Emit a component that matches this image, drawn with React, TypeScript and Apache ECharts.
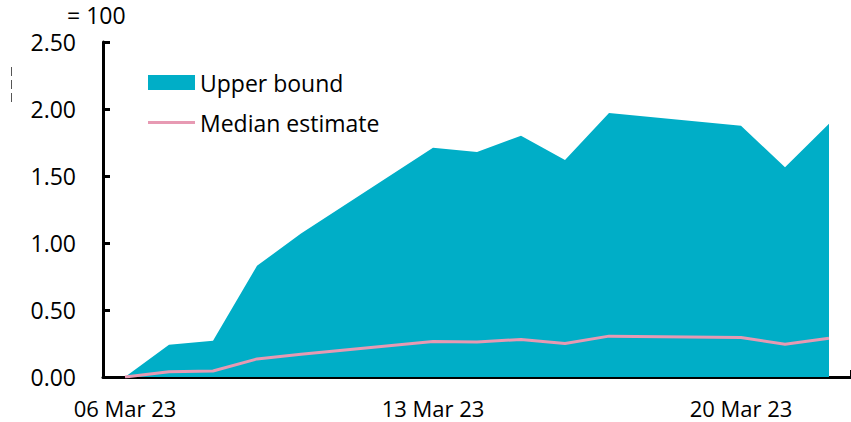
import React, { useEffect, useRef } from "react";
import * as echarts from "echarts";

const categories: string[] = [
  "06 Mar 23", "07 Mar 23", "08 Mar 23", "09 Mar 23", "10 Mar 23", "11 Mar 23",
  "12 Mar 23", "13 Mar 23", "14 Mar 23", "15 Mar 23", "16 Mar 23", "17 Mar 23",
  "18 Mar 23", "19 Mar 23", "20 Mar 23", "21 Mar 23", "22 Mar 23",
];

// weekends have no observation (null), lines are connected across them
const upperBound: (number | null)[] = [
  0, 0.24, 0.27, 0.83, 1.07, null, null, 1.71, 1.68, 1.8, 1.62, 1.97,
  null, null, 1.875, 1.565, 1.89,
];

const medianEstimate: (number | null)[] = [
  0, 0.04, 0.045, 0.135, 0.17, null, null, 0.265, 0.262, 0.28, 0.25, 0.305,
  null, null, 0.295, 0.245, 0.29,
];

const yTicks: number[] = [0, 0.5, 1, 1.5, 2, 2.5];

const TEAL = "#00AEC7";
const PINK = "#E79AB3";
const FONT = "'Open Sans', sans-serif";
const FS = 23;

export default function App() {
  const ref = useRef<HTMLDivElement>(null);

  useEffect(() => {
    if (!ref.current) return;
    const chart = echarts.init(ref.current, undefined, { renderer: "svg" });
    chart.setOption({
      animation: false,
      backgroundColor: "#ffffff",
      textStyle: { fontFamily: FONT },
      title: {
        text: "= 100",
        left: 67,
        top: 3,
        padding: 0,
        textStyle: { fontFamily: FONT, fontSize: FS, fontWeight: "normal", color: "#000" },
      },
      legend: [
        {
          left: 148,
          top: 71,
          padding: 0,
          itemWidth: 47,
          itemHeight: 15,
          data: [{ name: "Upper bound", icon: "rect", itemStyle: { color: TEAL } }],
          textStyle: { fontFamily: FONT, fontSize: FS, color: "#000" },
        },
        {
          left: 148,
          top: 111,
          padding: 0,
          itemWidth: 47,
          itemHeight: 3,
          data: [{ name: "Median estimate", icon: "rect", itemStyle: { color: PINK } }],
          textStyle: { fontFamily: FONT, fontSize: FS, color: "#000" },
        },
      ],
      grid: { left: 103, right: 0, top: 42, bottom: 45, containLabel: false },
      xAxis: {
        type: "category",
        data: categories,
        boundaryGap: true,
        axisLine: { show: true, lineStyle: { color: "#000", width: 3 } },
        axisTick: { show: true, inside: true, length: 7, interval: 6, lineStyle: { color: "#000", width: 3 } },
        axisLabel: {
          interval: 6,
          margin: 22,
          lineHeight: 18,
          color: "#000",
          fontFamily: FONT,
          fontSize: 22,
        },
        splitLine: { show: false },
      },
      yAxis: {
        type: "value",
        min: yTicks[0],
        max: yTicks[yTicks.length - 1],
        interval: 0.5,
        axisLine: { show: true, lineStyle: { color: "#000", width: 3 } },
        axisTick: { show: true, inside: true, length: 7, lineStyle: { color: "#000", width: 3 } },
        axisLabel: {
          margin: 27,
          color: "#000",
          fontFamily: FONT,
          fontSize: FS,
          formatter: (v: number) => v.toFixed(2),
        },
        splitLine: { show: false },
      },
      graphic: [
        {
          type: "line",
          shape: { x1: 11.5, y1: 67, x2: 11.5, y2: 105 },
          style: { stroke: "#555", lineWidth: 1, lineDash: [9, 4] },
        },
      ],
      series: [
        {
          name: "Upper bound",
          type: "line",
          data: upperBound,
          connectNulls: true,
          symbol: "none",
          lineStyle: { width: 0, color: TEAL },
          itemStyle: { color: TEAL },
          areaStyle: { color: TEAL, opacity: 1 },
          z: 1,
        },
        {
          name: "Median estimate",
          type: "line",
          data: medianEstimate,
          connectNulls: true,
          symbol: "none",
          lineStyle: { width: 3, color: PINK },
          itemStyle: { color: PINK },
          z: 2,
        },
      ],
    });
    return () => chart.dispose();
  }, []);

  return (
    <div
      ref={ref}
      style={{ position: "fixed", left: 0, top: 0, width: 851, height: 422 }}
    />
  );
}
